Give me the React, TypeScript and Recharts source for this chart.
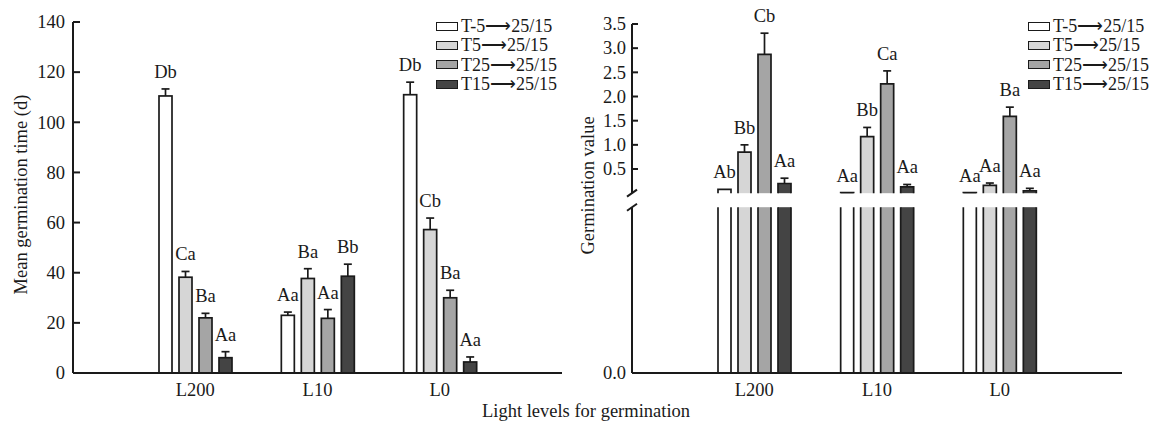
import { BarChart, Bar, XAxis, YAxis, Legend } from "recharts";

const INK = "#1a1a1a";
const FONT = '"Liberation Serif", "Times New Roman", serif';
const FS = 18.5;
const LEGEND_FS = 18;

// categories and series
const lightLevels = ["L200", "L10", "L0"];
const seriesKeys = ["tm5", "t5", "t25", "t15"];
const seriesNames = ["T-5⟶25/15", "T5⟶25/15", "T25⟶25/15", "T15⟶25/15"];
const seriesFills = ["#ffffff", "#d6d6d6", "#a5a5a5", "#444444"];

// Mean germination time (d)
const mgtTm5 = [110.5, 23.0, 111.0];
const mgtT5 = [38.2, 37.7, 57.2];
const mgtT25 = [22.0, 21.8, 30.0];
const mgtT15 = [6.1, 38.6, 4.4];
const mgtTm5Err = [2.8, 1.3, 5.0];
const mgtT5Err = [2.3, 3.9, 4.6];
const mgtT25Err = [1.8, 3.5, 3.0];
const mgtT15Err = [2.4, 4.8, 2.0];
const mgtTm5Sig = ["Db", "Aa", "Db"];
const mgtT5Sig = ["Ca", "Ba", "Cb"];
const mgtT25Sig = ["Ba", "Aa", "Ba"];
const mgtT15Sig = ["Aa", "Bb", "Aa"];
const mgtTicks = [0, 20, 40, 60, 80, 100, 120, 140];

// Germination value
const gvTm5 = [0.08, 0.01, 0.01];
const gvT5 = [0.85, 1.17, 0.16];
const gvT25 = [2.87, 2.26, 1.59];
const gvT15 = [0.2, 0.13, 0.05];
const gvTm5Err = [0, 0, 0];
const gvT5Err = [0.15, 0.19, 0.05];
const gvT25Err = [0.44, 0.27, 0.19];
const gvT15Err = [0.11, 0.05, 0.05];
const gvTm5Sig = ["Ab", "Aa", "Aa"];
const gvT5Sig = ["Bb", "Bb", "Aa"];
const gvT25Sig = ["Cb", "Ca", "Ba"];
const gvT15Sig = ["Aa", "Aa", "Aa"];
const gvTickLabels = [0.5, 1.0, 1.5, 2.0, 2.5, 3.0, 3.5];

// broken axis: the upper segment starts AXIS_OFFSET units above the base
const AXIS_OFFSET = 3.72;
const BREAK_HI = AXIS_OFFSET;
const BREAK_LO = 3.43;

function buildRows(means: number[][], errs: number[][], sigs: string[][], offset: number) {
  return lightLevels.map((level, i) => {
    const row: Record<string, any> = { level };
    seriesKeys.forEach((k, s) => {
      row[k] = means[s][i];
      row[k + "Plot"] = means[s][i] + offset;
      row[k + "Err"] = errs[s][i];
      row[k + "Sig"] = sigs[s][i];
    });
    return row;
  });
}

const mgtRows = buildRows(
  [mgtTm5, mgtT5, mgtT25, mgtT15],
  [mgtTm5Err, mgtT5Err, mgtT25Err, mgtT15Err],
  [mgtTm5Sig, mgtT5Sig, mgtT25Sig, mgtT15Sig],
  0
);
const gvRows = buildRows(
  [gvTm5, gvT5, gvT25, gvT15],
  [gvTm5Err, gvT5Err, gvT25Err, gvT15Err],
  [gvTm5Sig, gvT5Sig, gvT25Sig, gvT15Sig],
  AXIS_OFFSET
);

// bar with one-sided error bar and letter label; optionally split at the axis break
function makeBarShape(key: string, broken: boolean) {
  return (props: any) => {
    const { x, y, width, height, fill, payload } = props;
    const plotted = payload[key + "Plot"];
    const ppu = plotted > 0 ? height / plotted : 0;
    const base = y + height;
    const cx = x + width / 2;
    const err = payload[key + "Err"];
    const errTop = y - err * ppu;
    const sw = 1.7;

    let body;
    if (!broken) {
      body = <rect x={x} y={y} width={width} height={height} fill={fill} stroke={INK} strokeWidth={sw} />;
    } else {
      const gapTop = base - BREAK_HI * ppu;
      const gapBot = base - BREAK_LO * ppu;
      body = (
        <g>
          <rect x={x} y={y} width={width} height={Math.max(gapTop - y, 0)} fill={fill} />
          <path
            d={`M${x},${gapTop} V${y} H${x + width} V${gapTop}`}
            fill="none"
            stroke={INK}
            strokeWidth={sw}
          />
          <rect x={x} y={gapBot} width={width} height={base - gapBot} fill={fill} />
          <path
            d={`M${x},${gapBot} V${base} H${x + width} V${gapBot}`}
            fill="none"
            stroke={INK}
            strokeWidth={sw}
          />
        </g>
      );
    }

    return (
      <g>
        {body}
        {err > 0 && (
          <g stroke={INK} strokeWidth={sw}>
            <line x1={cx} x2={cx} y1={y} y2={errTop} />
            <line x1={cx - 4} x2={cx + 4} y1={errTop} y2={errTop} />
          </g>
        )}
        <text x={cx} y={errTop - 11} textAnchor="middle" fontSize={FS} fontFamily={FONT} fill={INK}>
          {payload[key + "Sig"]}
        </text>
      </g>
    );
  };
}

const CategoryTick = (props: any) => {
  const { x, y, payload } = props;
  return (
    <text x={x} y={y} dy={12.5} textAnchor="middle" fontSize={FS} fontFamily={FONT} fill={INK}>
      {payload.value}
    </text>
  );
};

const MgtTick = (props: any) => {
  const { x, y, payload } = props;
  const axisX = x + 8;
  return (
    <g>
      {payload.value !== 0 && <line x1={axisX} x2={axisX + 7} y1={y} y2={y} stroke={INK} strokeWidth={2} />}
      <text x={x} y={y} dy="0.34em" textAnchor="end" fontSize={FS} fontFamily={FONT} fill={INK}>
        {payload.value}
      </text>
    </g>
  );
};

const GvTick = (props: any) => {
  const { x, y, payload } = props;
  const v = payload.value;
  const axisX = x + 6;
  if (v === BREAK_HI || v === BREAK_LO) {
    const upper = v === BREAK_HI;
    return (
      <g>
        <rect x={axisX - 3} y={upper ? y : y - 8} width={6} height={8} fill="#fff" />
        <line x1={axisX - 5} y1={y + 3.5} x2={axisX + 5} y2={y - 3.5} stroke={INK} strokeWidth={2} />
      </g>
    );
  }
  const label = v === 0 ? "0.0" : (v - AXIS_OFFSET).toFixed(1);
  return (
    <g>
      {v !== 0 && <line x1={axisX} x2={axisX + 6} y1={y} y2={y} stroke={INK} strokeWidth={2} />}
      <text x={x} y={y} dy="0.34em" textAnchor="end" fontSize={FS} fontFamily={FONT} fill={INK}>
        {label}
      </text>
    </g>
  );
};

const LegendBox = () => (
  <div style={{ fontFamily: FONT, fontSize: LEGEND_FS, color: INK, lineHeight: 1 }}>
    {seriesNames.map((n, i) => (
      <div key={n} style={{ display: "flex", alignItems: "center", height: 19.3, whiteSpace: "nowrap" }}>
        <span
          style={{
            display: "inline-block",
            flex: "none",
            width: 20,
            height: 7,
            border: `1.5px solid ${INK}`,
            background: seriesFills[i],
            marginRight: 3,
          }}
        />
        <span>{n}</span>
      </div>
    ))}
  </div>
);

function yTitle(text: string, dx: number, dy: number) {
  return (props: any) => {
    const vb = props.viewBox || { x: 0, y: 0, width: 0, height: 0 };
    const cx = vb.x + dx;
    const cy = vb.y + vb.height / 2 + dy;
    return (
      <text
        x={cx}
        y={cy}
        transform={`rotate(-90 ${cx} ${cy})`}
        textAnchor="middle"
        dominantBaseline="central"
        fontSize={FS}
        fontFamily={FONT}
        fill={INK}
      >
        {text}
      </text>
    );
  };
}

const axisLine = { stroke: INK, strokeWidth: 2 };
const gvTicks = [0, BREAK_LO, BREAK_HI, ...gvTickLabels.map((t) => t + AXIS_OFFSET)];

export default function App() {
  return (
    <div
      style={{
        position: "absolute",
        left: 0,
        top: 0,
        width: 1151,
        height: 423,
        overflow: "hidden",
        background: "#fff",
        fontFamily: FONT,
      }}
    >
      <div style={{ position: "absolute", left: 0, top: 0 }}>
        <BarChart
          width={570}
          height={423}
          data={mgtRows}
          margin={{ top: 22, right: 8, left: 0, bottom: 0 }}
          barSize={13}
          barGap={7}
        >
          <XAxis
            dataKey="level"
            padding={{ left: 61, right: 61 }}
            axisLine={axisLine}
            tickLine={false}
            tickSize={0}
            tickMargin={10}
            height={50}
            interval={0}
            tick={<CategoryTick />}
          />
          <YAxis
            type="number"
            domain={[0, 140]}
            ticks={mgtTicks}
            width={73}
            axisLine={axisLine}
            tickLine={false}
            tickSize={0}
            tickMargin={8}
            interval={0}
            tick={<MgtTick />}
            label={yTitle("Mean germination time (d)", 21, -3)}
          />
          {seriesKeys.map((k, i) => (
            <Bar
              key={k}
              dataKey={k + "Plot"}
              name={seriesNames[i]}
              fill={seriesFills[i]}
              shape={makeBarShape(k, false)}
              isAnimationActive={false}
            />
          ))}
          <Legend
            layout="horizontal"
            align="center"
            verticalAlign="middle"
            content={<LegendBox />}
            wrapperStyle={{ top: 16.5, left: 436, width: 132 }}
          />
        </BarChart>
      </div>

      <div style={{ position: "absolute", left: 570, top: 0 }}>
        <BarChart
          width={581}
          height={423}
          data={gvRows}
          margin={{ top: 24, right: 29, left: 0, bottom: 0 }}
          barSize={13}
          barGap={7}
        >
          <XAxis
            dataKey="level"
            padding={{ left: 61, right: 61 }}
            axisLine={axisLine}
            tickLine={false}
            tickSize={0}
            tickMargin={10}
            height={50}
            interval={0}
            tick={<CategoryTick />}
          />
          <YAxis
            type="number"
            domain={[0, 3.5 + AXIS_OFFSET]}
            ticks={gvTicks}
            width={62}
            axisLine={axisLine}
            tickLine={false}
            tickSize={0}
            tickMargin={6}
            interval={0}
            tick={<GvTick />}
            label={yTitle("Germination value", 18, -13)}
          />
          {seriesKeys.map((k, i) => (
            <Bar
              key={k}
              dataKey={k + "Plot"}
              name={seriesNames[i]}
              fill={seriesFills[i]}
              shape={makeBarShape(k, true)}
              isAnimationActive={false}
            />
          ))}
          <Legend
            layout="horizontal"
            align="center"
            verticalAlign="middle"
            content={<LegendBox />}
            wrapperStyle={{ top: 16.5, left: 458, width: 122 }}
          />
        </BarChart>
      </div>

      <div
        style={{
          position: "absolute",
          left: 376,
          top: 401.4,
          width: 420,
          textAlign: "center",
          fontSize: FS,
          color: INK,
          whiteSpace: "nowrap",
        }}
      >
        Light levels for germination
      </div>
    </div>
  );
}
